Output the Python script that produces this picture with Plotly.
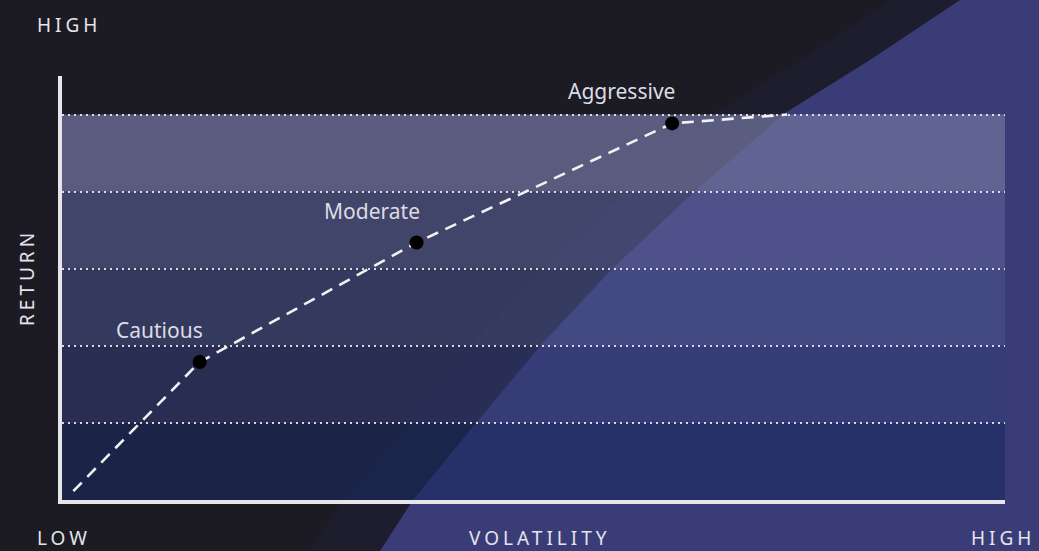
import plotly.graph_objects as go

# ---- data ----
profiles = ["Cautious", "Moderate", "Aggressive"]
profile_volatility = [14.6, 37.6, 64.7]
profile_return = [35.8, 66.8, 97.7]
curve_volatility = [1.2, 14.6, 37.6, 64.7, 76.9]
curve_return = [2.3, 35.8, 66.8, 97.7, 100.0]
band_edges = [0, 20, 40, 60, 80, 100]
band_colors = [
    "rgba(26,42,95,0.60)",
    "rgba(49,60,116,0.57)",
    "rgba(73,83,141,0.55)",
    "rgba(91,96,150,0.62)",
    "rgba(111,114,156,0.75)",
]
x_low_label = "LOW"
x_high_label = "HIGH"
x_title = "VOLATILITY"
y_high_label = "HIGH"
y_title = "RETURN"

W, H = 1039, 551
L, R, T, B = 62, 34, 76, 51
pw, ph = W - L - R, H - T - B


def px(x, y):
    return (x - L) / pw, (H - B - y) / ph


def sweep_path(offset):
    edge = [(380, 551), (413, 500), (475, 424), (540, 346), (612, 269),
            (695, 191), (785, 113), (870, 60), (960, 0)]
    pts = [(360 - offset, 600)] + [(x - offset, y) for x, y in edge] + \
          [(990 - offset, -40), (1100, -40), (1100, 600)]
    p = ""
    for i, (x, y) in enumerate(pts):
        a, b = px(x, y)
        p += ("M" if i == 0 else "L") + f"{a:.4f},{b:.4f} "
    return p + "Z"


shapes = [
    dict(type="path", xref="paper", yref="paper", path=sweep_path(70),
         fillcolor="#1d1d2e", line=dict(width=0), layer="below"),
    dict(type="path", xref="paper", yref="paper", path=sweep_path(0),
         fillcolor="#3a3c78", line=dict(width=0), layer="below"),
]

for i in range(5):
    shapes.append(dict(type="rect", xref="x", yref="y", x0=0, x1=100,
                       y0=band_edges[i], y1=band_edges[i + 1],
                       fillcolor=band_colors[i], line=dict(width=0),
                       layer="below"))

fig = go.Figure()
fig.add_trace(go.Scatter(
    x=curve_volatility, y=curve_return, mode="lines",
    line=dict(color="#f2f2f4", width=2.6, dash="12px,8px"),
    hoverinfo="skip", showlegend=False))
fig.add_trace(go.Scatter(
    x=profile_volatility, y=profile_return, mode="markers",
    marker=dict(color="#000000", size=14),
    text=profiles, hoverinfo="text", showlegend=False))

font_main = "Noto Sans, Open Sans, sans-serif"
label_col = "#dcdce4"
annotations = []
for name, xv, yv in zip(profiles, profile_volatility, profile_return):
    annotations.append(dict(x=xv, y=yv, xref="x", yref="y", text=name,
                            showarrow=False, xanchor="right", yanchor="middle",
                            xshift=5, yshift=32,
                            font=dict(family=font_main, size=21, color=label_col)))


def spaced(t):
    return f'<span style="letter-spacing:4px">{t}</span>'


axis_font = dict(family=font_main, size=19, color="#e4e4ea")
annotations += [
    dict(x=px(35, 25)[0], y=px(35, 25)[1], xref="paper", yref="paper",
         text=spaced(y_high_label), showarrow=False, xanchor="left",
         yanchor="middle", font=axis_font),
    dict(x=px(27, 278)[0], y=px(27, 278)[1], xref="paper", yref="paper",
         text=spaced(y_title), showarrow=False, xanchor="center",
         yanchor="middle", textangle=-90, font=axis_font),
    dict(x=px(35, 538)[0], y=px(35, 538)[1], xref="paper", yref="paper",
         text=spaced(x_low_label), showarrow=False, xanchor="left",
         yanchor="middle", font=axis_font),
    dict(x=px(540, 538)[0], y=px(540, 538)[1], xref="paper", yref="paper",
         text=spaced(x_title), showarrow=False, xanchor="center",
         yanchor="middle", font=axis_font),
    dict(x=px(1037, 538)[0], y=px(1037, 538)[1], xref="paper", yref="paper",
         text=spaced(x_high_label), showarrow=False, xanchor="right",
         yanchor="middle", font=axis_font),
]

fig.update_layout(
    width=W, height=H,
    margin=dict(l=L, r=R, t=T, b=B, pad=0),
    paper_bgcolor="#1c1b24",
    plot_bgcolor="rgba(0,0,0,0)",
    shapes=shapes,
    annotations=annotations,
    xaxis=dict(range=[0, 100], showgrid=False, zeroline=False,
               showticklabels=False, ticks="", showline=True,
               linecolor="#e6e6ea", linewidth=4, fixedrange=True),
    yaxis=dict(range=[0, 110], showgrid=True, tick0=0, dtick=20,
               gridcolor="rgba(235,235,240,0.9)", gridwidth=1.6,
               griddash="2px,4px", zeroline=False,
               showticklabels=False, ticks="", showline=True,
               linecolor="#e6e6ea", linewidth=4, fixedrange=True),
    showlegend=False,
)

fig.write_html(
    "out.html",
    config={"displayModeBar": False},
    post_script="document.body.style.margin='0';"
                "document.body.style.overflow='hidden';"
                "document.documentElement.style.background='#1c1b24';",
)
